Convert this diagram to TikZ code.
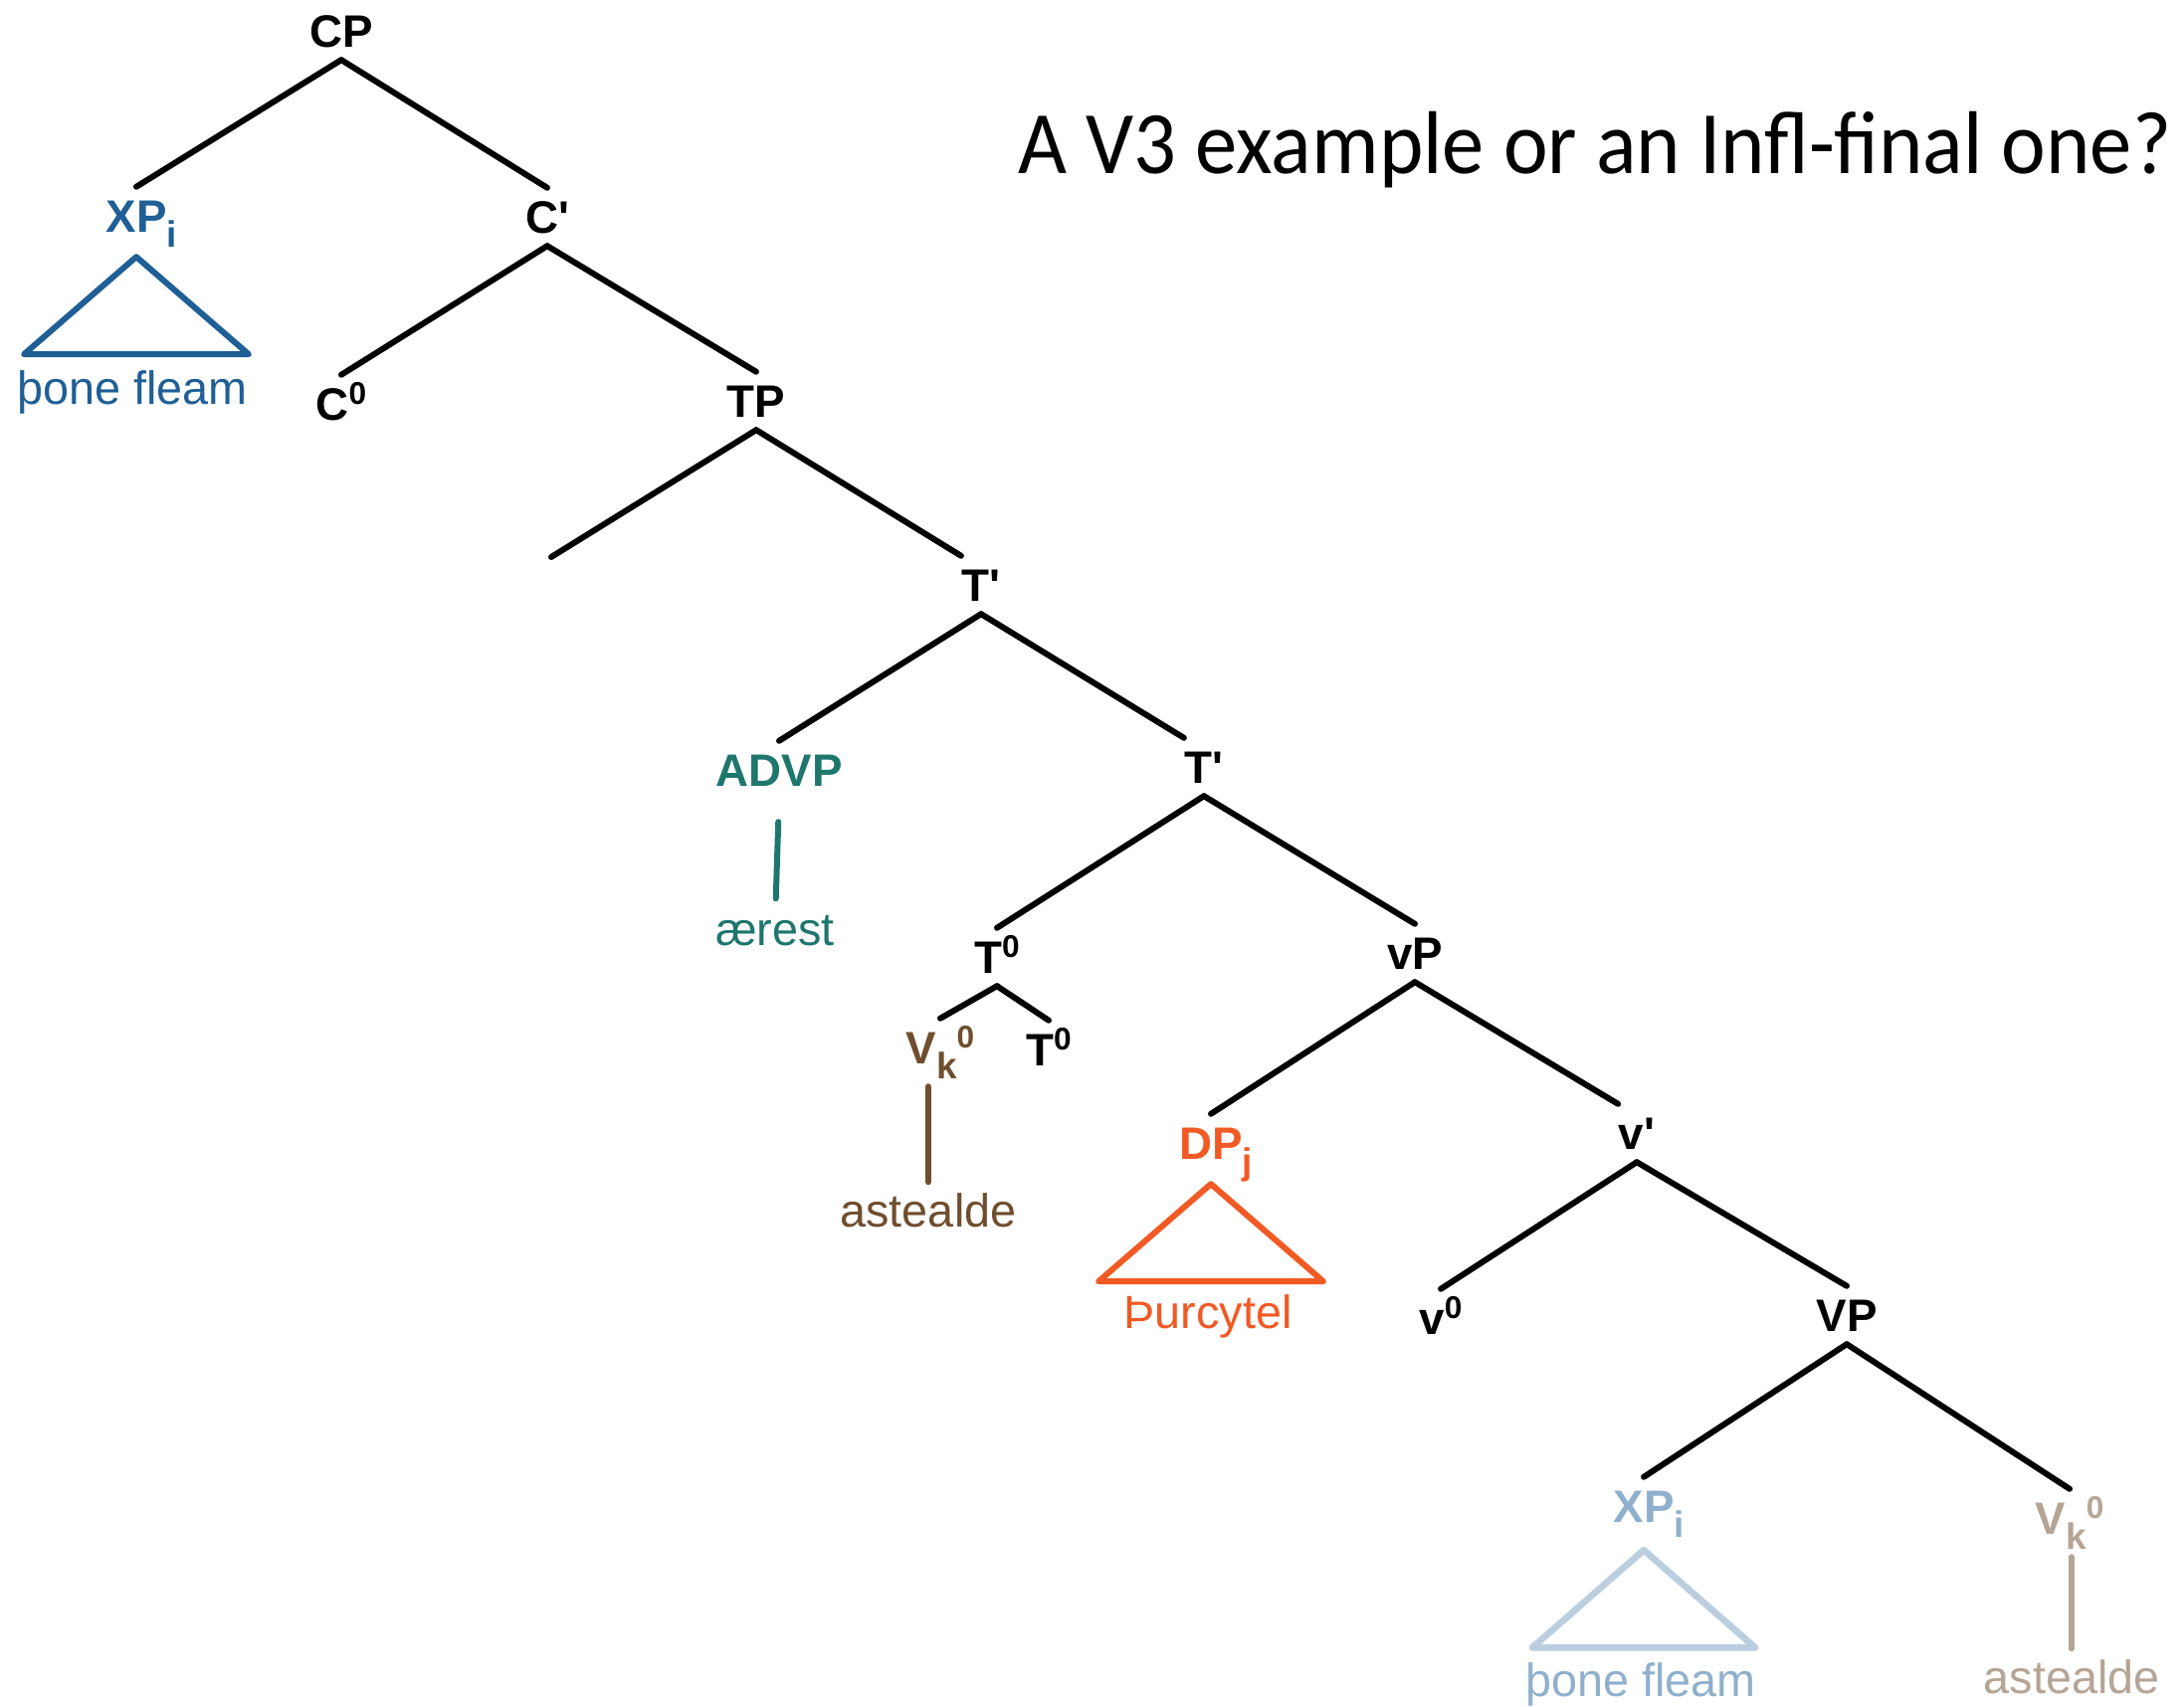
\documentclass[tikz,border=0pt]{standalone}
\usepackage{fontspec}
\usepackage{graphicx}
\setmainfont{Liberation Sans}
\newfontfamily\titlefont{Carlito}

\definecolor{xpblue}{HTML}{1F5F96}
\definecolor{advpteal}{HTML}{1E766D}
\definecolor{vbrown}{HTML}{6F4E2E}
\definecolor{dporange}{HTML}{F15A24}
\definecolor{traceblue}{HTML}{8FB0CC}
\definecolor{tracetri}{HTML}{BACEE0}
\definecolor{tracebrown}{HTML}{B5A595}

% raised/lowered indices on the labels
\newcommand\lsub[1]{\raisebox{-4.3pt}{\fontsize{10.5}{11}\selectfont #1}}
\newcommand\lsup[1]{\raisebox{4.5pt}{\fontsize{9}{10}\selectfont #1}}
\newcommand\lbar{\textquotesingle}

\begin{document}
\begin{tikzpicture}[x=0.01cm, y=-0.01cm,
    every edge/.style={draw, line width=1.7pt, line cap=round},
    lbl/.style={font=\fontsize{13}{15}\selectfont\bfseries, inner xsep=0pt, inner ysep=0.12cm, text height=0.33cm, text depth=0pt},
    leaf/.style={font=\fontsize{13.3}{16}\selectfont, inner sep=0pt, text height=0.24cm, text depth=0pt, anchor=base},
    tri/.style={line width=1.7pt, line join=round, line cap=round}]
            \useasboundingbox (0,0) rectangle (2195,1716);

            % Title
            \node[anchor=base west, inner sep=0pt] (title) at (1023,175)
                {\resizebox{11.58cm}{\height}{\titlefont\fontsize{25.5}{30}\selectfont A V3 example or an Infl-final one?}};

            % Nodes
            \node[lbl] (CP) at (343,31) {CP};
            \node[lbl, xpblue] (XP) at (137,217) {XP\rlap{\lsub{i}}};
            \node[lbl] (C1) at (550,218) {C\lbar};
            \node[lbl] (C0) at (343,406) {C\lsup{0}};
            \node[lbl] (TP) at (760,403) {TP};
            \coordinate (spec) at (554,560);
            \node[lbl] (T1) at (986,588) {T\lbar};
            \node[lbl, advpteal] (ADVP) at (783,774) {ADVP};
            \node[lbl] (T2) at (1210,771) {T\lbar};
            \node[lbl] (T0) at (1002,962) {T\lsup{0}};
            \node[lbl, vbrown] (Vk) at (945,1053) {V\lsub{k}\lsup{0}};
            \node[lbl] (T00) at (1054,1055) {T\lsup{0}};
            \node[lbl] (vP) at (1422,958) {vP};
            \node[lbl, dporange] (DP) at (1217,1149) {DP\rlap{\lsub{j}}};
            \node[lbl] (v1) at (1645,1139) {v\lbar};
            \node[lbl] (v0) at (1448,1325) {v\lsup{0}};
            \node[lbl] (VP) at (1856,1322) {VP};
            \node[lbl, traceblue] (XPt) at (1652,1514) {XP\rlap{\lsub{i}}};
            \node[lbl, tracebrown] (Vkt) at (2080,1526) {V\lsub{k}\lsup{0}};

            % Leaves
            \node[leaf, xpblue] (fleam) at (133,407) {þone fleam};
            \node[leaf, advpteal] (aerest) at (779,950) {ærest};
            \node[leaf, vbrown] (asteal) at (933,1233) {astealde};
            \node[leaf, dporange] (thurc) at (1214,1335) {Þurcytel};
            \node[leaf, traceblue] (fleamt) at (1649,1705) {þone fleam};
            \node[leaf, tracebrown] (astealt) at (2082,1702) {astealde};

            % Edges of the tree
            \path (CP.south) edge (XP.north);
            \path (CP.south) edge (C1.north);

            \path (C1.south) edge (C0.north);
            \path (C1.south) edge (TP.north);

            \path (TP.south) edge (spec);
            \path (TP.south) edge (T1.north west);

            \path (T1.south) edge (ADVP.north);
            \path (T1.south) edge (T2.north west);

            \path (T2.south) edge (T0.north);
            \path (T2.south) edge (vP.north);

            \path (T0.south) edge (Vk.north);
            \path (T0.south) edge (T00.north);

            \path (vP.south) edge (DP.north);
            \path (vP.south) edge (v1.north west);

            \path (v1.south) edge (v0.north);
            \path (v1.south) edge (VP.north);

            \path (VP.south) edge (XPt.north);
            \path (VP.south) edge (Vkt.north);

            % Unary branches down to the words
            \path[draw=advpteal, shorten <=0.23cm, shorten >=0.22cm] (ADVP.south) edge (aerest.north);
            \path[draw=vbrown, shorten <=0.1cm, shorten >=0.2cm] (asteal.north |- Vk.south) edge (asteal.north);
            \path[draw=tracebrown, shorten <=0.1cm, shorten >=0.2cm] (astealt.north |- Vkt.south) edge (astealt.north);

            % Triangles over the phrases
            \draw[tri, xpblue] (XP.south) ++(0,12) -- ++(113,98) -- ++(-226,0) -- cycle;
            \draw[tri, dporange] (DP.south) ++(0,12) -- ++(113,98) -- ++(-226,0) -- cycle;
            \draw[tri, tracetri, line width=1.9pt] (XPt.south) ++(0,15) -- ++(112,98) -- ++(-224,0) -- cycle;
        \end{tikzpicture}
\end{document}
